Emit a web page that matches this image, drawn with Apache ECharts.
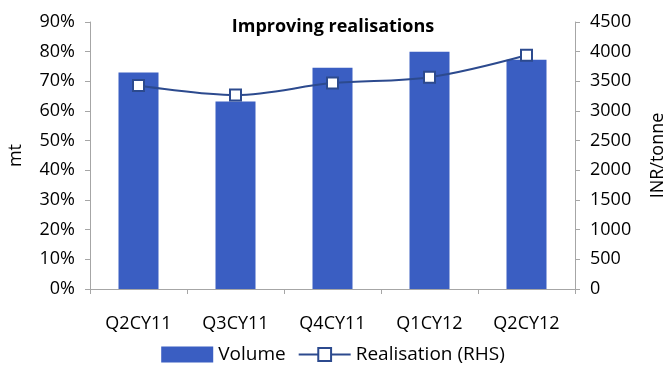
<!DOCTYPE html>
<html>
<head>
<meta charset="utf-8">
<script src="https://cdn.jsdelivr.net/npm/echarts@6/dist/echarts.min.js"></script>
<style>
  html, body { margin: 0; padding: 0; background: #fff; }
  #chart { width: 666px; height: 365px; }
</style>
</head>
<body>
<div id="chart"></div>
<script>
// Quarterly volume (share, %) and realisation (INR/tonne)
const quarters = ['Q2CY11', 'Q3CY11', 'Q4CY11', 'Q1CY12', 'Q2CY12'];
const volume = [73, 63.2, 74.6, 80, 77.3];
const realisation = [3430, 3270, 3470, 3570, 3940];

const FONT = '"Open Sans"';
const AXIS_GREY = '#A6A6A6';
const BAR_BLUE = '#3A5EC2';
const LINE_BLUE = '#2C4A8E';
const LABEL_SIZE = 18;

const chart = echarts.init(document.getElementById('chart'));
chart.setOption({
  animation: false,
  textStyle: { fontFamily: FONT, color: '#000' },
  title: {
    text: 'Improving realisations',
    left: 'center',
    top: 18,
    padding: 0,
    textStyle: { fontFamily: FONT, fontSize: 18, fontWeight: 'bold', color: '#000' }
  },
  grid: { left: 90, right: 91, top: 22, bottom: 76, outerBoundsMode: 'none' },
  legend: {
    top: 345,
    left: 'center',
    padding: 0,
    itemGap: 12,
    itemWidth: 52,
    itemHeight: 16,
    textStyle: { fontFamily: FONT, fontSize: 19, color: '#000' },
    data: [
      { name: 'Volume', icon: 'rect' },
      { name: 'Realisation (RHS)' }
    ]
  },
  xAxis: {
    type: 'category',
    data: quarters,
    axisLine: { lineStyle: { color: AXIS_GREY, width: 1 } },
    axisTick: { show: true, alignWithLabel: false, length: 5, lineStyle: { color: AXIS_GREY } },
    axisLabel: { fontFamily: FONT, fontSize: LABEL_SIZE, color: '#000', margin: 26 }
  },
  yAxis: [
    {
      type: 'value',
      name: 'mt',
      nameLocation: 'middle',
      nameRotate: 90,
      nameGap: 65,
      nameTextStyle: { fontFamily: FONT, fontSize: LABEL_SIZE, color: '#000' },
      min: 0, max: 90, interval: 10,
      axisLine: { show: true, lineStyle: { color: AXIS_GREY } },
      axisTick: { show: true, length: 5, lineStyle: { color: AXIS_GREY } },
      splitLine: { show: false },
      axisLabel: { fontFamily: FONT, fontSize: LABEL_SIZE, color: '#000', formatter: '{value}%', margin: 15 }
    },
    {
      type: 'value',
      name: 'INR/tonne',
      nameLocation: 'middle',
      nameRotate: 90,
      nameGap: 74,
      nameTextStyle: { fontFamily: FONT, fontSize: LABEL_SIZE, color: '#000' },
      min: 0, max: 4500, interval: 500,
      position: 'right',
      axisLine: { show: true, lineStyle: { color: AXIS_GREY } },
      axisTick: { show: true, length: 5, lineStyle: { color: AXIS_GREY } },
      splitLine: { show: false },
      axisLabel: {
        fontFamily: FONT, fontSize: LABEL_SIZE, color: '#000', margin: 15,
        formatter: (v) => String(v)
      }
    }
  ],
  series: [
    {
      name: 'Volume',
      type: 'bar',
      yAxisIndex: 0,
      data: volume,
      barWidth: 40,
      itemStyle: { color: BAR_BLUE }
    },
    {
      name: 'Realisation (RHS)',
      type: 'line',
      yAxisIndex: 1,
      data: realisation,
      smooth: 0.35,
      symbol: 'rect',
      symbolSize: 11,
      showAllSymbol: true,
      lineStyle: { color: LINE_BLUE, width: 2 },
      itemStyle: { color: '#fff', borderColor: LINE_BLUE, borderWidth: 2 },
      z: 3
    }
  ]
});
</script>
</body>
</html>
